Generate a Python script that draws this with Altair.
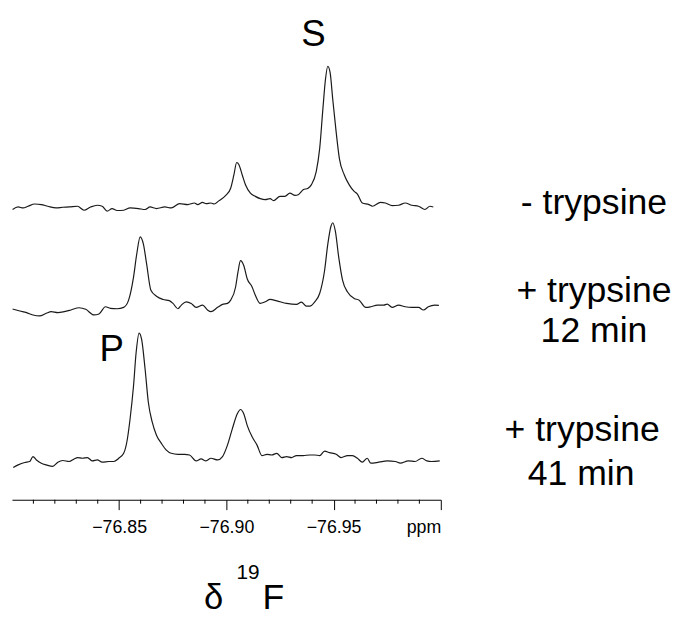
import altair as alt
import pandas as pd

# ---- trace data (chemical shift in ppm, intensity in arbitrary units) ----
ppm_a = [-76.8003, -76.8029, -76.8052, -76.8075, -76.8106, -76.8137, -76.8167, -76.8206, -76.8237, -76.8267,
         -76.8306, -76.8336, -76.8367, -76.8398, -76.8421, -76.8444, -76.8467, -76.8490, -76.8521, -76.8551,
         -76.8590, -76.8621, -76.8644, -76.8674, -76.8713, -76.8743, -76.8782, -76.8820, -76.8851, -76.8866,
         -76.8889, -76.8905, -76.8928, -76.8943, -76.8966, -76.8997, -76.9020, -76.9035, -76.9048, -76.9058,
         -76.9074, -76.9089, -76.9112, -76.9135, -76.9158, -76.9181, -76.9204, -76.9220, -76.9250, -76.9273,
         -76.9296, -76.9320, -76.9335, -76.9358, -76.9381, -76.9396, -76.9419, -76.9435, -76.9450, -76.9462,
         -76.9473, -76.9484, -76.9496, -76.9512, -76.9527, -76.9550, -76.9573, -76.9596, -76.9611, -76.9634,
         -76.9665, -76.9681, -76.9719, -76.9742, -76.9773, -76.9803, -76.9834, -76.9865, -76.9896, -76.9926,
         -76.9949, -76.9965]
int_a = [-1.3, 1.3, 0.3, 2.0, 4.3, 3.7, 2.0, 0.3, 1.0, 1.3,
         2.0, -2.0, 1.3, 3.0, 2.0, -3.0, -0.3, -2.3, -2.0, 0.3,
         -0.3, -1.3, 1.3, -0.3, 1.3, 0.3, 4.7, 3.7, 5.3, 3.7,
         6.0, 4.7, 5.3, 4.3, 7.7, 13.0, 20.3, 33.7, 46.3, 44.3,
         33.7, 23.7, 15.3, 12.0, 9.7, 8.7, 9.7, 7.7, 12.0, 12.0,
         15.3, 13.0, 13.7, 18.7, 20.3, 23.7, 37.0, 60.3, 100.3, 130.3,
         143.7, 137.0, 110.3, 77.0, 50.3, 33.7, 23.7, 17.0, 14.3, 5.3,
         3.7, 2.0, 6.0, 5.3, 2.7, 3.0, 5.3, 3.0, 2.0, -1.3,
         2.0, 1.3]

ppm_b = [-76.8003, -76.8037, -76.8068, -76.8098, -76.8129, -76.8160, -76.8183, -76.8214, -76.8244, -76.8275,
         -76.8313, -76.8344, -76.8382, -76.8406, -76.8436, -76.8459, -76.8490, -76.8521, -76.8544, -76.8567,
         -76.8582, -76.8598, -76.8613, -76.8628, -76.8648, -76.8674, -76.8705, -76.8736, -76.8751, -76.8774,
         -76.8790, -76.8813, -76.8836, -76.8859, -76.8889, -76.8912, -76.8928, -76.8959, -76.8982, -76.9005,
         -76.9020, -76.9043, -76.9054, -76.9066, -76.9081, -76.9097, -76.9120, -76.9135, -76.9158, -76.9181,
         -76.9204, -76.9235, -76.9281, -76.9327, -76.9350, -76.9373, -76.9389, -76.9412, -76.9435, -76.9458,
         -76.9473, -76.9488, -76.9496, -76.9508, -76.9524, -76.9542, -76.9565, -76.9596, -76.9619, -76.9650,
         -76.9673, -76.9704, -76.9734, -76.9750, -76.9773, -76.9803, -76.9834, -76.9865, -76.9896, -76.9919,
         -76.9942, -76.9972, -76.9991]
int_b = [-1.0, -3.0, -4.7, -7.0, -8.0, -5.3, -3.7, -4.7, -3.7, -2.0,
         0.3, -1.3, -7.0, -6.0, 1.3, -0.3, -0.7, 0.7, 8.0, 31.3,
         54.7, 72.0, 64.7, 44.7, 18.0, 12.0, 8.7, 7.3, 4.7, -0.7,
         3.0, 6.3, 4.7, 0.7, 3.0, -2.0, -3.7, 0.7, 3.7, 4.7,
         8.0, 21.3, 36.3, 48.0, 43.0, 29.7, 21.3, 13.0, 4.7, 6.3,
         8.7, 7.3, 4.7, 3.7, 6.0, 2.0, 2.0, 6.3, 14.7, 38.0,
         64.7, 83.0, 86.3, 78.0, 51.3, 28.0, 16.3, 9.7, 8.0, 0.7,
         1.3, 3.0, 3.0, 4.0, 0.7, 3.0, 1.3, 0.7, 0.7, -2.0,
         1.3, 3.0, 2.7]

ppm_c = [-76.8006, -76.8029, -76.8060, -76.8083, -76.8098, -76.8114, -76.8137, -76.8160, -76.8190, -76.8214,
         -76.8237, -76.8267, -76.8290, -76.8306, -76.8329, -76.8352, -76.8375, -76.8398, -76.8421, -76.8452,
         -76.8475, -76.8498, -76.8521, -76.8536, -76.8551, -76.8567, -76.8579, -76.8593, -76.8605, -76.8621,
         -76.8636, -76.8654, -76.8674, -76.8697, -76.8720, -76.8743, -76.8774, -76.8805, -76.8828, -76.8859,
         -76.8882, -76.8905, -76.8928, -76.8959, -76.8982, -76.9005, -76.9028, -76.9051, -76.9066, -76.9081,
         -76.9097, -76.9120, -76.9143, -76.9166, -76.9189, -76.9212, -76.9235, -76.9258, -76.9281, -76.9304,
         -76.9327, -76.9358, -76.9389, -76.9412, -76.9435, -76.9458, -76.9481, -76.9512, -76.9535, -76.9565,
         -76.9588, -76.9611, -76.9634, -76.9657, -76.9673, -76.9711, -76.9750, -76.9788, -76.9811, -76.9849,
         -76.9880, -76.9911, -76.9935, -76.9957, -76.9995]
int_c = [-7.3, -4.7, -2.3, -1.3, 3.7, 0.3, -3.0, -4.7, -6.3, -2.0,
         -0.3, -1.3, 1.3, 2.7, 2.0, 2.7, -0.7, 0.3, -2.0, -1.3,
         -1.3, 2.0, 7.0, 18.7, 42.0, 75.3, 108.7, 128.7, 122.0, 92.0,
         58.7, 38.7, 25.3, 17.0, 10.3, 7.0, 6.0, 6.0, 5.3, -0.7,
         1.3, -0.7, 2.0, 0.3, 3.7, 15.3, 32.0, 47.0, 51.3, 47.0,
         35.3, 23.7, 15.3, 4.7, 6.0, 5.3, 7.0, 2.7, 3.7, 2.7,
         4.7, 4.7, 5.3, 5.3, 4.7, 9.3, 7.7, 6.0, 2.7, 4.7,
         4.7, 2.0, -2.0, 2.0, -3.0, -2.0, -0.7, -1.3, -3.0, -0.7,
         -1.3, 2.0, -0.7, -1.3, -0.7]

trace_names = ["- trypsine", "+ trypsine 12 min", "+ trypsine 41 min"]
trace_offsets = [295, 194, 40]

major_ticks = [-76.85, -76.90, -76.95, -77.00]
minor_ticks = [-76.81, -76.82, -76.83, -76.84, -76.86, -76.87, -76.88, -76.89,
               -76.91, -76.92, -76.93, -76.94, -76.96, -76.97, -76.98, -76.99]

rows = []
for name, off, xs, ys in zip(trace_names, trace_offsets,
                             [ppm_a, ppm_b, ppm_c], [int_a, int_b, int_c]):
    for i, (x, y) in enumerate(zip(xs, ys)):
        rows.append({"trace": name, "order": i, "ppm": x, "signal": y + off})
df = pd.DataFrame(rows)

W, H = 434, 492
FONT = "Liberation Sans"

xscale = alt.Scale(domain=[-77.0, -76.8], reverse=True, nice=False, zero=False)
yscale = alt.Scale(domain=[0, H], nice=False, zero=False)

lines = alt.Chart(df).mark_line(color="#1a1a1a", strokeWidth=1.2, interpolate="monotone").encode(
    x=alt.X("ppm:Q", scale=xscale,
            axis=alt.Axis(values=major_ticks, title=None, grid=False, tickSize=10,
                          tickColor="black", domainColor="black", tickWidth=1, domainWidth=1,
                          labelFont=FONT, labelFontSize=18, labelColor="black", labelPadding=9,
                          labelFlush=True,
                          labelExpr="datum.value <= -76.999 ? 'ppm' : format(datum.value, '.2f')")),
    y=alt.Y("signal:Q", scale=yscale, axis=None),
    detail="trace:N",
    order="order:Q",
)

minor = alt.Chart(pd.DataFrame({"ppm": minor_ticks})).mark_rule(color="black", strokeWidth=1).encode(
    x=alt.X("ppm:Q", scale=xscale),
    y=alt.value(H),
    y2=alt.value(H + 4),
)


def label(text, x, y, size, align="center"):
    return alt.Chart(pd.DataFrame({"t": [text]})).mark_text(
        font=FONT, fontSize=size, color="black", align=align, baseline="alphabetic"
    ).encode(text="t:N", x=alt.value(x), y=alt.value(y))


texts = [
    label("S", 305, 33, 37),
    label("P", 101, 352, 37),
    label("- trypsine", 589, 203, 36),
    label("+ trypsine", 589, 292, 36),
    label("12 min", 589, 332, 36),
    label("+ trypsine", 577, 433, 36),
    label("41 min", 576, 477, 36),
    label("δ", 204, 603, 35),
    label("19", 239, 572, 21),
    label("F", 264.5, 603, 36),
]

chart = alt.layer(lines, minor, *texts).properties(
    width=W, height=H,
    autosize=alt.AutoSizeParams(type="none"),
    padding={"left": 4, "top": 2, "right": 237, "bottom": 114},
).configure_view(stroke=None)

chart.save("out.html", embed_options={"renderer": "svg", "actions": False})
